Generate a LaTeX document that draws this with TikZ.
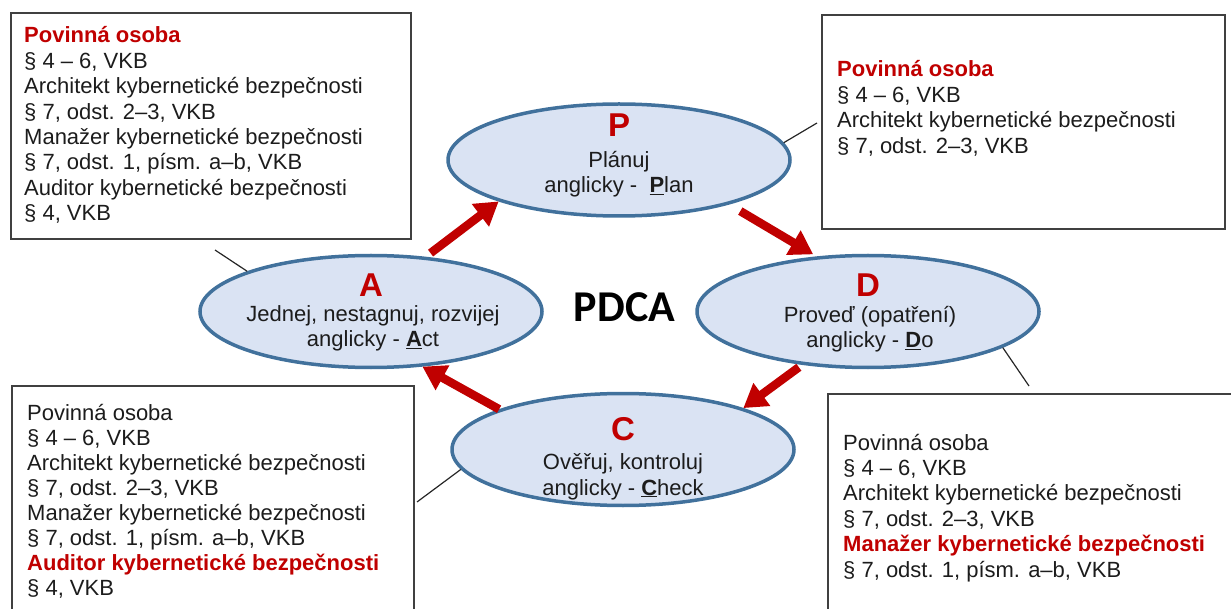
\documentclass[tikz,border=0pt]{standalone}
\usepackage{fontspec}
\setmainfont{Liberation Sans}
\newfontfamily\cyclefont{Carlito}
\usetikzlibrary{shapes.geometric,arrows.meta}
\definecolor{pdcared}{RGB}{192,0,0}
\definecolor{ringblue}{RGB}{65,113,156}
\definecolor{ringfill}{RGB}{218,227,243}
\definecolor{inktext}{RGB}{28,28,28}
\begin{document}
\begin{tikzpicture}[x=1pt,y=-1pt,
  phase/.style={ellipse, draw=ringblue, fill=ringfill, line width=3.5pt,
    inner sep=0pt, minimum width=342pt, minimum height=112pt},
  flow/.style={draw=pdcared, line width=8.5pt, -{Triangle[width=27pt,length=23pt]}},
  callout/.style={draw=black!85, line width=1.2pt},
  panel/.style={rectangle, draw=black!75, line width=1.8pt, fill=white,
    inner sep=0pt, anchor=north west},
  txt/.style={anchor=base west, inner sep=0pt,
    font=\fontsize{22}{25}\selectfont, text=inktext},
  hd/.style={anchor=base west, inner sep=0pt,
    font=\fontsize{22}{25}\selectfont\bfseries, text=pdcared},
  letter/.style={anchor=base, inner sep=0pt,
    font=\fontsize{33}{33}\selectfont\bfseries, text=pdcared},
  etxt/.style={anchor=base, inner sep=0pt,
    font=\fontsize{22}{25}\selectfont, text=inktext}
]
\useasboundingbox (0,0) rectangle (1231,609);
\clip (0,0) rectangle (1231,609);

% legal reference panels
\node[panel, minimum width=400pt, minimum height=226pt] (tlbox) at (10,12) {};
\node[panel, minimum width=403pt, minimum height=214pt] (trbox) at (821,14) {};
\node[panel, minimum width=402pt, minimum height=260pt] (blbox) at (11,385) {};
\node[panel, minimum width=450pt, minimum height=260pt] (brbox) at (827,393) {};

\foreach \s/\t [count=\i from 0] in {
  hd/Povinná osoba, txt/{§ 4 – 6, VKB},
  txt/Architekt kybernetické bezpečnosti, txt/{§ 7, odst. 2–3, VKB},
  txt/Manažer kybernetické bezpečnosti, txt/{§ 7, odst. 1, písm. a–b, VKB},
  txt/Auditor kybernetické bezpečnosti, txt/{§ 4, VKB}}
  \node[\s] (tl\i) at (24,{43+25.4*\i}) {\t};

\foreach \s/\t [count=\i from 0] in {
  hd/Povinná osoba, txt/{§ 4 – 6, VKB},
  txt/Architekt kybernetické bezpečnosti, txt/{§ 7, odst. 2–3, VKB}}
  \node[\s] (tr\i) at (837,{77+25.4*\i}) {\t};

\foreach \s/\t [count=\i from 0] in {
  txt/Povinná osoba, txt/{§ 4 – 6, VKB},
  txt/Architekt kybernetické bezpečnosti, txt/{§ 7, odst. 2–3, VKB},
  txt/Manažer kybernetické bezpečnosti, txt/{§ 7, odst. 1, písm. a–b, VKB},
  hd/Auditor kybernetické bezpečnosti, txt/{§ 4, VKB}}
  \node[\s] (bl\i) at (27,{420+25*\i}) {\t};

\foreach \s/\t [count=\i from 0] in {
  txt/Povinná osoba, txt/{§ 4 – 6, VKB},
  txt/Architekt kybernetické bezpečnosti, txt/{§ 7, odst. 2–3, VKB},
  hd/Manažer kybernetické bezpečnosti, txt/{§ 7, odst. 1, písm. a–b, VKB}}
  \node[\s] (br\i) at (843,{450+25.4*\i}) {\t};

% the four phases of the cycle
\node[phase] (P) at (619,160) {};
\node[phase] (A) at (371,311.5) {};
\node[phase] (D) at (868,311.5) {};
\node[phase] (C) at (623,449.5) {};

\node[letter] (Pl) at (619,137) {P};
\node[etxt] (P1) at (619,168) {Plánuj};
\node[etxt] (P2) at (619,193) {anglicky -\ \ \textbf{\underline{P}}lan};

\node[letter] (Al) at (371,297) {A};
\node[etxt] (A1) at (373,322) {Jednej, nestagnuj, rozvijej};
\node[etxt] (A2) at (373,347) {anglicky - \textbf{\underline{A}}ct};

\node[letter] (Dl) at (868,297) {D};
\node[etxt] (D1) at (870,323) {Proveď (opatření)};
\node[etxt] (D2) at (870,348) {anglicky - \textbf{\underline{D}}o};

\node[letter] (Cl) at (623,440) {C};
\node[etxt] (C1) at (623,469) {Ověřuj, kontroluj};
\node[etxt] (C2) at (623,495) {anglicky - \textbf{\underline{C}}heck};

\node[anchor=base, inner sep=0pt, font=\cyclefont\bfseries\fontsize{44}{44}\selectfont]
  (title) at (624.5,322) {PDCA};

% cycle arrows
\draw[flow, shorten <=6pt] (A.45) -- (P.199.7);
\draw[flow, shorten <=13pt, shorten >=4pt] (P.-22.5) -- (D.133.3);
\draw[flow, shorten <=4pt] (D.219.7) -- (C.19.8);
\draw[flow] (C.162.2) -- (A.-47.4);

% callout pointers
\coordinate (tlend) at (215,250);
\coordinate (trend) at (817,123);
\coordinate (blend) at (417,502);
\coordinate (brend) at (1029,386);
\draw[callout] (A.162.3) -- (tlend);
\draw[callout] (P.6.9) -- (trend);
\draw[callout] (C.187.8) -- (blend);
\draw[callout] (D.-15.9) -- (brend);
\end{tikzpicture}
\end{document}
